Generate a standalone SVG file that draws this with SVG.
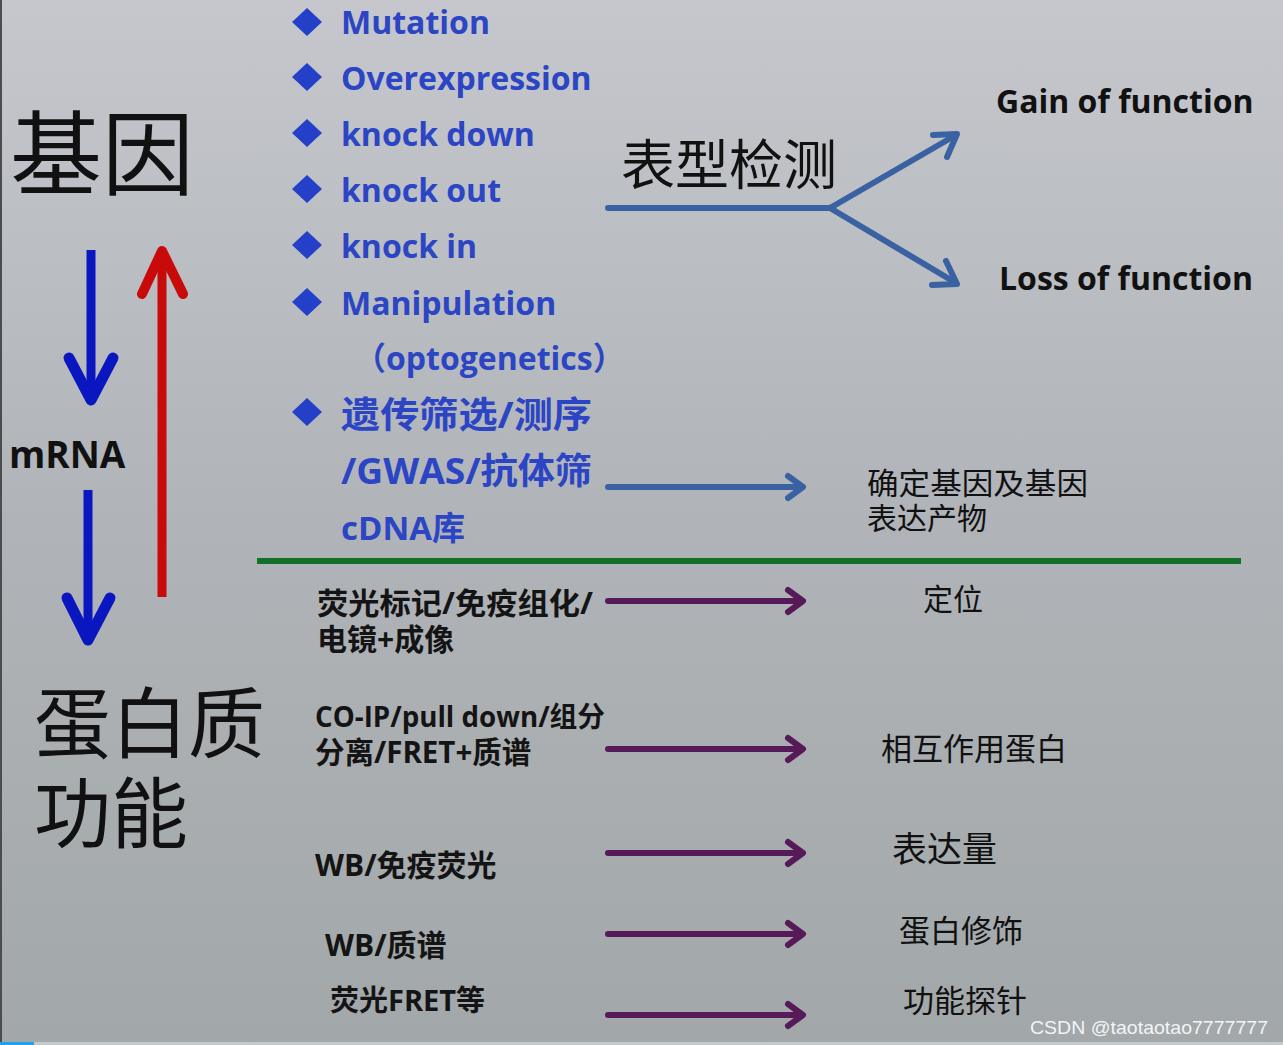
<svg xmlns="http://www.w3.org/2000/svg" width="1283" height="1045" viewBox="0 0 1283 1045">
<defs>
<linearGradient id="bg" x1="0" y1="0" x2="0" y2="1">
<stop offset="0" stop-color="#c5c7cc"/>
<stop offset="0.5" stop-color="#b0b4b8"/>
<stop offset="1" stop-color="#a2a7a9"/>
</linearGradient>
<style>
.lat{font-family:"Open Sans","Noto Sans CJK SC",sans-serif;font-weight:700;}
.blue{fill:#2b45c4;}
.blk{fill:#111;}
.cjk{font-family:"Noto Sans CJK SC",sans-serif;}
.mix{font-family:"Open Sans","Noto Sans CJK SC",sans-serif;font-weight:700;fill:#141414;}
.dia{fill:#2440c8;}
.purp{stroke:#561a58;stroke-width:6;fill:none;stroke-linecap:round;stroke-linejoin:round;}
.bl{stroke:#3a62a2;stroke-width:6;fill:none;stroke-linecap:round;stroke-linejoin:round;}
</style>
</defs>
<rect width="1283" height="1045" fill="url(#bg)"/>
<rect x="0" y="0" width="2" height="1042" fill="#4a4c50"/>
<rect x="0" y="1042" width="1283" height="3" fill="#c4c9cb"/>
<rect x="0" y="1042" width="34" height="3" fill="#1ea3e8"/>

<g id="gene"><text x="10" y="188" class="cjk blk" font-size="92">基因</text></g>
<g id="mrna"><text x="9" y="468" class="lat blk" font-size="37">mRNA</text></g>
<g id="protein"><text x="34" y="752" class="cjk blk" font-size="77">蛋白质</text><text x="34" y="842" class="cjk blk" font-size="77">功能</text></g>

<g id="methods-gene">
<path class="dia" d="M307 8 L322 22 L307 36 L292 22Z"/>
<path class="dia" d="M307 63 L322 77 L307 91 L292 77Z"/>
<path class="dia" d="M307 119 L322 133 L307 147 L292 133Z"/>
<path class="dia" d="M307 175 L322 189 L307 203 L292 189Z"/>
<path class="dia" d="M307 231 L322 245 L307 259 L292 245Z"/>
<path class="dia" d="M307 288 L322 302 L307 316 L292 302Z"/>
<path class="dia" d="M307 398 L322 412 L307 426 L292 412Z"/>
<text class="lat blue" font-size="32" x="341" y="34">Mutation</text>
<text class="lat blue" font-size="32" x="341" y="90">Overexpression</text>
<text class="lat blue" font-size="32" x="341" y="146">knock down</text>
<text class="lat blue" font-size="32" x="341" y="202">knock out</text>
<text class="lat blue" font-size="32" x="341" y="258">knock in</text>
<text class="lat blue" font-size="32" x="341" y="315">Manipulation</text>
<text class="lat blue" font-size="32" x="354" y="370">（optogenetics）</text>
<text class="lat blue" font-size="36" x="341" y="428" textLength="251" lengthAdjust="spacingAndGlyphs">遗传筛选/测序</text>
<text class="lat blue" font-size="36" x="341" y="484" textLength="251" lengthAdjust="spacingAndGlyphs">/GWAS/抗体筛</text>
<text class="lat blue" font-size="33" x="341" y="540">cDNA库</text>
</g>

<g id="phenotype"><text x="621" y="185" class="cjk blk" font-size="54">表型检测</text></g>
<g id="gain"><text x="996" y="113" class="lat blk" font-size="32">Gain of function</text></g>
<g id="loss"><text x="999" y="290" class="lat blk" font-size="32">Loss of function</text></g>
<g id="identify"><text x="867" y="494" class="cjk blk" font-size="30" textLength="221" lengthAdjust="spacingAndGlyphs">确定基因及基因</text><text x="867" y="529" class="cjk blk" font-size="30">表达产物</text></g>

<g id="m1"><text class="mix" font-size="30" x="317" y="614" textLength="276" lengthAdjust="spacingAndGlyphs">荧光标记/免疫组化/</text><text class="mix" font-size="30" x="317" y="650">电镜+成像</text></g>
<g id="m2"><text class="mix" font-size="28" x="315" y="727" textLength="290" lengthAdjust="spacingAndGlyphs">CO-IP/pull down/组分</text><text class="mix" font-size="29.5" x="315" y="763">分离/FRET+质谱</text></g>
<g id="m3"><text class="mix" font-size="30" x="315" y="876">WB/免疫荧光</text></g>
<g id="m4"><text class="mix" font-size="30" x="325" y="956">WB/质谱</text></g>
<g id="m5"><text class="mix" font-size="29" x="330" y="1011">荧光FRET等</text></g>

<g id="r1"><text x="923" y="610" class="cjk blk" font-size="30">定位</text></g>
<g id="r2"><text x="881" y="760" class="cjk blk" font-size="31">相互作用蛋白</text></g>
<g id="r3"><text x="892" y="862" class="cjk blk" font-size="35">表达量</text></g>
<g id="r4"><text x="899" y="942" class="cjk blk" font-size="31">蛋白修饰</text></g>
<g id="r5"><text x="903" y="1012" class="cjk blk" font-size="31">功能探针</text></g>

<g id="connectors">
<g fill="none" stroke-linecap="round" stroke-linejoin="round">
<path d="M91 250 V398" stroke="#0a16c0" stroke-width="9" stroke-linecap="butt"/>
<path d="M69 358 L91 400 L113 358" stroke="#0a16c0" stroke-width="11"/>
<path d="M88 490 V638" stroke="#0a16c0" stroke-width="9" stroke-linecap="butt"/>
<path d="M67 598 L88 640 L110 598" stroke="#0a16c0" stroke-width="11"/>
<path d="M162 597 V252" stroke="#c80a0a" stroke-width="9" stroke-linecap="butt"/>
<path d="M142 294 L162 251 L183 294" stroke="#c80a0a" stroke-width="10"/>
</g>
<path class="bl" d="M608 208 H830 L956 135"/>
<path class="bl" d="M933 135 L957 134 L947 157"/>
<path class="bl" d="M830 208 L956 283"/>
<path class="bl" d="M946 261 L957 284 L932 285"/>
<path class="bl" d="M608 487 H802"/>
<path class="bl" d="M788 476 L803 487 L788 498"/>
<line x1="257" y1="561" x2="1241" y2="561" stroke="#137028" stroke-width="6"/>
<path class="purp" d="M608 601 H802 M788 590 L803 601 L788 612"/>
<path class="purp" d="M608 749 H802 M788 738 L803 749 L788 760"/>
<path class="purp" d="M608 853 H802 M788 842 L803 853 L788 864"/>
<path class="purp" d="M608 934 H802 M788 923 L803 934 L788 945"/>
<path class="purp" d="M608 1015 H802 M788 1004 L803 1015 L788 1026"/>
</g>

<text x="1030" y="1034" font-family="'Liberation Sans',sans-serif" font-size="19" fill="#f2f4f6" textLength="238" lengthAdjust="spacingAndGlyphs">CSDN @taotaotao7777777</text>
</svg>
